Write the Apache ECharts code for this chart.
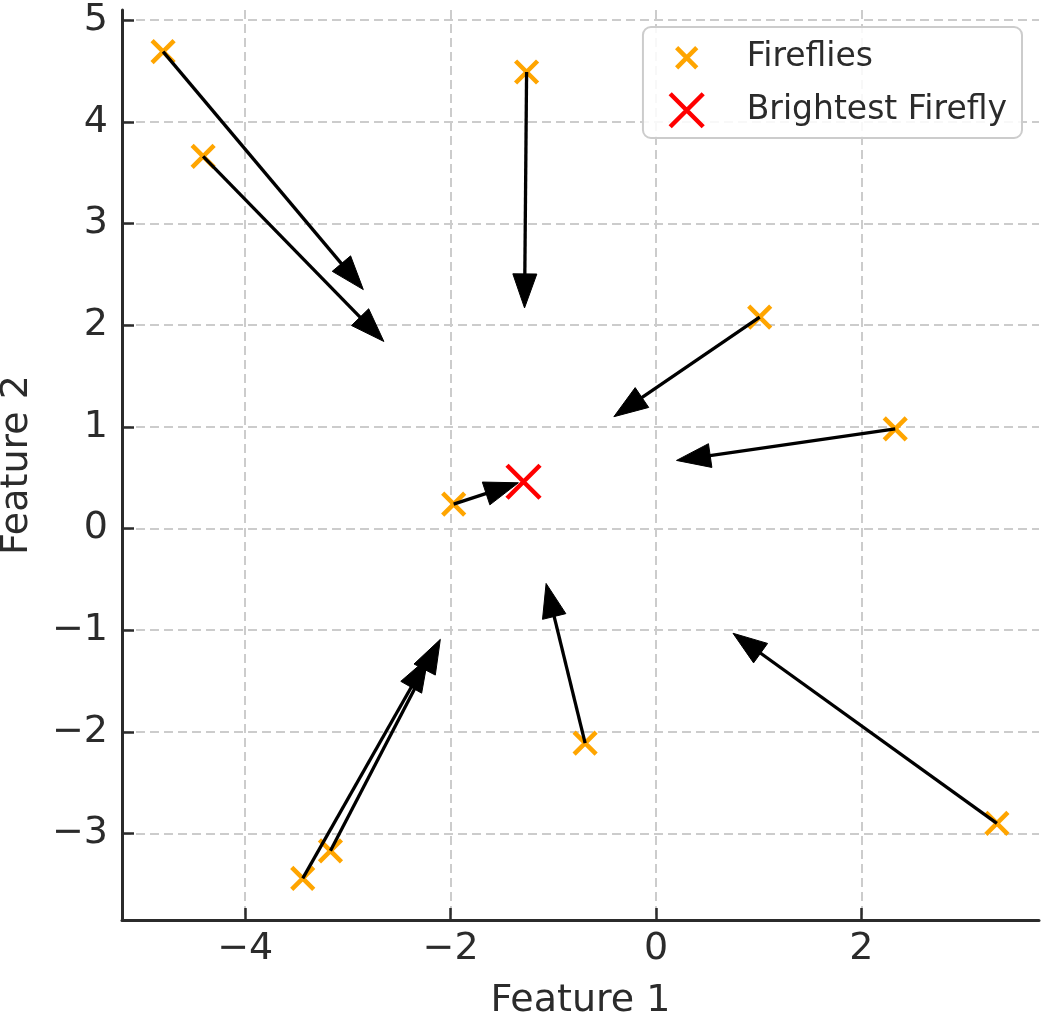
<!DOCTYPE html>
<html>
<head>
<meta charset="utf-8">
<script src="https://cdn.jsdelivr.net/npm/echarts@6/dist/echarts.min.js"></script>
<style>
  html, body { margin: 0; padding: 0; background: #fff; }
  #chart { width: 1041px; height: 1016px; }
</style>
</head>
<body>
<div id="chart"></div>
<script>
// firefly positions and where each one's move arrow ends
var fireflyX = [-4.80, -4.41, -1.26, 1.01, 2.33, -1.97, -0.69, -3.17, -3.44, 3.32];
var fireflyY = [4.69, 3.66, 4.49, 2.08, 0.98, 0.24, -2.11, -3.17, -3.44, -2.90];
var arrowTipX = [-2.85, -2.65, -1.28, -0.41, 0.20, -1.34, -1.07, -2.10, -2.22, 0.75];
var arrowTipY = [2.35, 1.84, 2.17, 1.10, 0.67, 0.45, -0.54, -1.09, -1.27, -1.03];
var brightest = [-1.29, 0.46];
var xTicks = [-4, -2, 0, 2];
var yTicks = [-3, -2, -1, 0, 1, 2, 3, 4, 5];

var FONT = 'DejaVu Sans';
var TEXT = '#2b2b2b';
var X_PATH = 'path://M0,0L10,10M10,0L0,10';
// same cross with empty margin so the legend icon draws smaller
var X_PATH_SMALL = 'path://M-3.2,-3.2M13.2,13.2M0,0L10,10M10,0L0,10';

function fmt(v) {
  return v < 0 ? '\u2212' + Math.abs(v) : String(v);
}

var arrowData = fireflyX.map(function (x, i) {
  return [x, fireflyY[i], arrowTipX[i], arrowTipY[i]];
});
var fireflyData = fireflyX.map(function (x, i) {
  return [x, fireflyY[i]];
});

function renderArrow(params, api) {
  var s = api.coord([api.value(0), api.value(1)]);
  var e = api.coord([api.value(2), api.value(3)]);
  var dx = e[0] - s[0], dy = e[1] - s[1];
  var len = Math.sqrt(dx * dx + dy * dy);
  var ux = dx / len, uy = dy / len;
  var hl = 34, hw = 24;
  var bx = e[0] - ux * hl, by = e[1] - uy * hl;
  var px = -uy * hw / 2, py = ux * hw / 2;
  return {
    type: 'group',
    children: [
      { type: 'line', shape: { x1: s[0], y1: s[1], x2: bx + ux * 2, y2: by + uy * 2 },
        style: { stroke: '#000', lineWidth: 3.3 } },
      { type: 'polygon', shape: { points: [[e[0], e[1]], [bx + px, by + py], [bx - px, by - py]] },
        style: { fill: '#000', stroke: '#000', lineWidth: 1 } }
    ]
  };
}

var chart = echarts.init(document.getElementById('chart'));

var axisCommon = {
  type: 'value',
  axisLine: { show: true, onZero: false, lineStyle: { color: TEXT, width: 3 } },
  splitLine: { show: true, lineStyle: { color: '#cccccc', width: 2, type: [9, 5] } },
  nameLocation: 'middle',
  nameTextStyle: { fontSize: 38, color: TEXT, fontFamily: FONT }
};

var option = {
  animation: false,
  backgroundColor: '#ffffff',
  grid: { left: 122, right: 2, top: 10, bottom: 96, outerBoundsMode: 'none' },
  legend: {
    orient: 'vertical',
    right: 19,
    top: 27,
    padding: [12, 15, 9, 25],
    itemWidth: 44,
    itemHeight: 33,
    itemGap: 15,
    symbolKeepAspect: true,
    backgroundColor: 'rgba(255,255,255,0.85)',
    borderColor: '#cccccc',
    borderWidth: 2,
    borderRadius: 8,
    textStyle: { fontSize: 33, color: TEXT, fontFamily: FONT, padding: [0, 0, 0, 33] },
    data: [
      { name: 'Fireflies', icon: X_PATH_SMALL,
        itemStyle: { color: '#FFA500', borderColor: '#FFA500', borderWidth: 4.5, opacity: 1 } },
      { name: 'Brightest Firefly', icon: X_PATH,
        itemStyle: { color: '#FF0000', borderColor: '#FF0000', borderWidth: 4.5, opacity: 1 } }
    ]
  },
  xAxis: Object.assign({}, axisCommon, {
    min: -5.2, max: 3.73, splitNumber: 5,
    name: 'Feature 1', nameGap: 62,
    axisTick: { show: true, inside: true, length: 12, customValues: xTicks,
      lineStyle: { color: TEXT, width: 2.5 } },
    axisLabel: { customValues: xTicks, formatter: fmt, fontSize: 38, color: TEXT,
      fontFamily: FONT, margin: 10 }
  }),
  yAxis: Object.assign({}, axisCommon, {
    min: -3.85, max: 5.1, splitNumber: 9,
    name: 'Feature 2', nameGap: 86,
    axisTick: { show: true, inside: true, length: 12, customValues: yTicks,
      lineStyle: { color: TEXT, width: 2.5 } },
    axisLabel: { customValues: yTicks, formatter: fmt, fontSize: 38, color: TEXT,
      fontFamily: FONT, margin: 14 }
  }),
  series: [
    {
      name: 'Fireflies',
      type: 'scatter',
      z: 2,
      symbol: X_PATH,
      symbolSize: 22,
      itemStyle: { color: '#FFA500', borderColor: '#FFA500', borderWidth: 4.5, opacity: 1 },
      data: fireflyData
    },
    {
      name: 'arrows',
      type: 'custom',
      z: 3,
      renderItem: renderArrow,
      encode: { x: [0, 2], y: [1, 3] },
      data: arrowData
    },
    {
      name: 'Brightest Firefly',
      type: 'scatter',
      z: 4,
      symbol: X_PATH,
      symbolSize: 33,
      itemStyle: { color: '#FF0000', borderColor: '#FF0000', borderWidth: 4.5, opacity: 1 },
      data: [brightest]
    }
  ]
};

chart.setOption(option);
</script>
</body>
</html>
